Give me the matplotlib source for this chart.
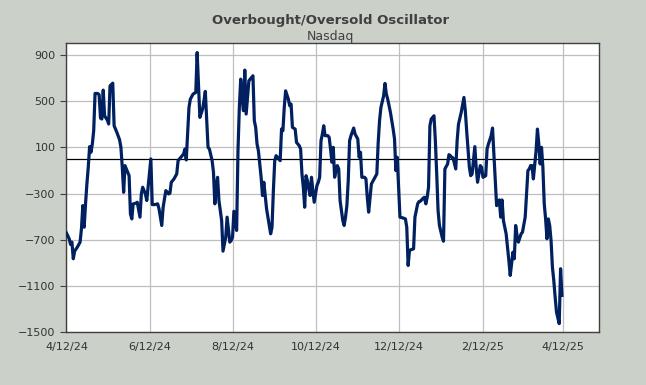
import matplotlib
matplotlib.use("Agg")
import matplotlib.pyplot as plt
import matplotlib.dates as mdates
import pandas as pd

# oscillator readings
dates = [
    "2024-04-12", "2024-04-14", "2024-04-15", "2024-04-16", "2024-04-17", "2024-04-18",
    "2024-04-20", "2024-04-22", "2024-04-23", "2024-04-24", "2024-04-25", "2024-04-26",
    "2024-04-27", "2024-04-28", "2024-04-29", "2024-04-30", "2024-05-01", "2024-05-02",
    "2024-05-03", "2024-05-05", "2024-05-06", "2024-05-07", "2024-05-08", "2024-05-09",
    "2024-05-10", "2024-05-12", "2024-05-13", "2024-05-14", "2024-05-16", "2024-05-17",
    "2024-05-19", "2024-05-21", "2024-05-22", "2024-05-23", "2024-05-24", "2024-05-25",
    "2024-05-26", "2024-05-27", "2024-05-28", "2024-05-29", "2024-05-30", "2024-05-31",
    "2024-06-02", "2024-06-03", "2024-06-05", "2024-06-06", "2024-06-07", "2024-06-09",
    "2024-06-10", "2024-06-13", "2024-06-14", "2024-06-16", "2024-06-18", "2024-06-19",
    "2024-06-21", "2024-06-22", "2024-06-24", "2024-06-26", "2024-06-27", "2024-06-28",
    "2024-06-30", "2024-07-02", "2024-07-03", "2024-07-05", "2024-07-07", "2024-07-08",
    "2024-07-09", "2024-07-11", "2024-07-12", "2024-07-14", "2024-07-16", "2024-07-17",
    "2024-07-18", "2024-07-19", "2024-07-21", "2024-07-22", "2024-07-23", "2024-07-25",
    "2024-07-26", "2024-07-28", "2024-07-29", "2024-07-30", "2024-07-31", "2024-08-01",
    "2024-08-02", "2024-08-04", "2024-08-05", "2024-08-07", "2024-08-08", "2024-08-10",
    "2024-08-11", "2024-08-12", "2024-08-13", "2024-08-15", "2024-08-16", "2024-08-17",
    "2024-08-18", "2024-08-19", "2024-08-20", "2024-08-21", "2024-08-22", "2024-08-24",
    "2024-08-27", "2024-08-28", "2024-08-29", "2024-08-30", "2024-08-31", "2024-09-01",
    "2024-09-02", "2024-09-03", "2024-09-04", "2024-09-06", "2024-09-07", "2024-09-08",
    "2024-09-09", "2024-09-10", "2024-09-11", "2024-09-12", "2024-09-13", "2024-09-14",
    "2024-09-16", "2024-09-17", "2024-09-18", "2024-09-19", "2024-09-20", "2024-09-22",
    "2024-09-23", "2024-09-24", "2024-09-25", "2024-09-27", "2024-09-28", "2024-09-30",
    "2024-10-01", "2024-10-02", "2024-10-03", "2024-10-04", "2024-10-05", "2024-10-06",
    "2024-10-07", "2024-10-08", "2024-10-09", "2024-10-10", "2024-10-11", "2024-10-13",
    "2024-10-14", "2024-10-15", "2024-10-16", "2024-10-17", "2024-10-18", "2024-10-19",
    "2024-10-21", "2024-10-22", "2024-10-23", "2024-10-24", "2024-10-25", "2024-10-26",
    "2024-10-27", "2024-10-28", "2024-10-29", "2024-10-30", "2024-11-01", "2024-11-02",
    "2024-11-03", "2024-11-04", "2024-11-05", "2024-11-06", "2024-11-07", "2024-11-09",
    "2024-11-10", "2024-11-12", "2024-11-13", "2024-11-14", "2024-11-15", "2024-11-17",
    "2024-11-18", "2024-11-19", "2024-11-20", "2024-11-22", "2024-11-24", "2024-11-26",
    "2024-11-27", "2024-11-28", "2024-11-29", "2024-12-01", "2024-12-02", "2024-12-03",
    "2024-12-04", "2024-12-06", "2024-12-07", "2024-12-08", "2024-12-09", "2024-12-10",
    "2024-12-11", "2024-12-13", "2024-12-15", "2024-12-17", "2024-12-18", "2024-12-19",
    "2024-12-20", "2024-12-21", "2024-12-23", "2024-12-24", "2024-12-26", "2024-12-27",
    "2024-12-28", "2024-12-30", "2024-12-31", "2025-01-01", "2025-01-02", "2025-01-03",
    "2025-01-04", "2025-01-05", "2025-01-07", "2025-01-08", "2025-01-09", "2025-01-10",
    "2025-01-11", "2025-01-13", "2025-01-14", "2025-01-15", "2025-01-17", "2025-01-18",
    "2025-01-19", "2025-01-20", "2025-01-21", "2025-01-23", "2025-01-24", "2025-01-25",
    "2025-01-27", "2025-01-29", "2025-01-30", "2025-01-31", "2025-02-01", "2025-02-02",
    "2025-02-03", "2025-02-04", "2025-02-06", "2025-02-07", "2025-02-08", "2025-02-09",
    "2025-02-10", "2025-02-11", "2025-02-12", "2025-02-13", "2025-02-14", "2025-02-15",
    "2025-02-16", "2025-02-18", "2025-02-19", "2025-02-20", "2025-02-21", "2025-02-22",
    "2025-02-23", "2025-02-24", "2025-02-25", "2025-02-26", "2025-02-27", "2025-03-01",
    "2025-03-02", "2025-03-03", "2025-03-04", "2025-03-06", "2025-03-07", "2025-03-08",
    "2025-03-09", "2025-03-10", "2025-03-12", "2025-03-13", "2025-03-15", "2025-03-16",
    "2025-03-17", "2025-03-18", "2025-03-19", "2025-03-20", "2025-03-21", "2025-03-23",
    "2025-03-24", "2025-03-25", "2025-03-26", "2025-03-27", "2025-03-28", "2025-03-29",
    "2025-03-30", "2025-03-31", "2025-04-01", "2025-04-02", "2025-04-03", "2025-04-04",
    "2025-04-05", "2025-04-06", "2025-04-07", "2025-04-09", "2025-04-10", "2025-04-11",
]
values = [
    -642, -691, -740, -720, -864, -798,
    -763, -720, -605, -404, -591, -389,
    -217, -73, 106, 57, 129, 244,
    566, 566, 555, 353, 345, 595,
    373, 336, 302, 632, 655, 287,
    230, 166, 100, -73, -289, -58,
    -87, -116, -145, -476, -519, -389,
    -383, -375, -504, -303, -245, -303,
    -360, 0, -395, -395, -389, -432,
    -576, -418, -274, -303, -297, -202,
    -173, -130, -15, 14, 42, 86,
    -9, 445, 517, 561, 575, 920,
    647, 359, 431, 503, 584, 100,
    86, -15, -116, -389, -245, -159,
    -360, -533, -798, -677, -504, -720,
    -706, -677, -453, -619, 71, 445,
    690, 532, 417, 768, 388, 676,
    719, 330, 273, 129, 71, -44,
    -159, -317, -202, -432, -504, -576,
    -648, -591, -274, -15, 28, 14,
    -15, 258, 244, 445, 589, 517,
    460, 474, 273, 258, 143, 114,
    86, -130, -245, -418, -145, -188,
    -260, -317, -159, -274, -375, -231,
    -202, -159, 158, 215, 287, 201,
    201, 186, 86, -29, 100, -159,
    -101, -58, -87, -360, -533, -576,
    -504, -404, -188, 158, 201, 267,
    215, 172, 14, 57, -159, -159,
    -173, -332, -461, -217, -173, -130,
    140, 330, 445, 546, 653, 561,
    517, 402, 330, 258, 172, -101,
    14, -504, -510, -519, -591, -922,
    -792, -786, -778, -504, -389, -369,
    -366, -340, -332, -389, -332, -245,
    287, 345, 373, 158, -130, -447,
    -576, -677, -712, -87, -44, 37,
    28, 14, 8, -87, 158, 301,
    402, 532, 417, 244, 86, -73,
    -145, -130, 106, -73, -202, -130,
    -58, -73, -159, -153, -145, 86,
    129, 201, 267, 42, -188, -404,
    -389, -355, -504, -355, -533, -648,
    -763, -878, -1008, -807, -864, -576,
    -663, -720, -648, -634, -504, -303,
    -101, -87, -58, -58, -173, 71,
    258, 129, -44, 100, -73, -389,
    -519, -691, -519, -576, -706, -936,
    -1051, -1195, -1325, -1425, -950, -1181,
]

title = "Overbought/Oversold Oscillator"
subtitle = "Nasdaq"
y_ticks = [-1500, -1100, -700, -300, 100, 500, 900]
x_ticks = ["2024-04-12", "2024-06-12", "2024-08-12", "2024-10-12",
           "2024-12-12", "2025-02-12", "2025-04-12"]
x_start = "2024-04-12"
x_end = "2025-05-08 14:00"

bg = "#cbd0c9"
line_color = "#002060"
text_color = "#333333"

fig = plt.figure(figsize=(6.46, 3.85), dpi=100, facecolor=bg)
ax = fig.add_axes([0.1029, 0.1369, 0.8251, 0.7506])
ax.set_facecolor("white")

ax.plot(pd.to_datetime(dates), values, color=line_color, lw=2.3,
        solid_joinstyle="round", zorder=3)
ax.axhline(0, color="black", lw=0.9, zorder=2)

ax.set_ylim(-1500, 1000)
ax.set_xlim(pd.Timestamp(x_start), pd.Timestamp(x_end))
ax.set_yticks(y_ticks)
ax.set_xticks(pd.to_datetime(x_ticks))
ax.xaxis.set_major_formatter(
    plt.FuncFormatter(lambda v, p: "{d.month}/{d.day}/{y}".format(
        d=mdates.num2date(v), y=mdates.num2date(v).strftime("%y"))))

ax.grid(True, color="#bfbfbf", lw=0.9, zorder=1)
ax.tick_params(axis="y", length=4, width=0.8, color="#404040", pad=4,
               labelsize=8, labelcolor=text_color)
ax.tick_params(axis="x", length=0, pad=7, labelsize=8, labelcolor=text_color)
for s in ax.spines.values():
    s.set_color("#404040")
    s.set_linewidth(1)

fig.text(0.511, 0.948, title, ha="center", va="center", fontsize=9.5,
         fontweight="bold", color="#404040")
fig.text(0.511, 0.906, subtitle, ha="center", va="center", fontsize=9,
         color="#404040")

fig.savefig("out.png", dpi=100, facecolor=bg)
